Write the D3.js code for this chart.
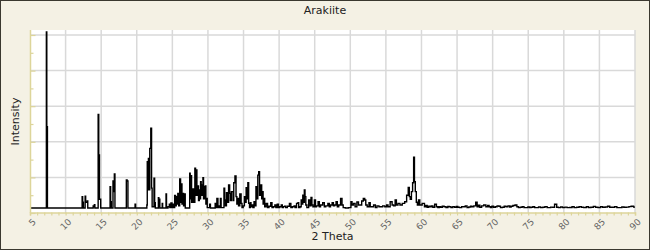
<!DOCTYPE html>
<html>
<head>
<meta charset="utf-8">
<script src="https://cdn.jsdelivr.net/npm/d3@7"></script>
<style>
  html, body { margin: 0; padding: 0; background: #f4f1e4; }
  svg { display: block; }
</style>
</head>
<body>
<script>
// ---- data ----
const title = "Arakiite";
const xLabel = "2 Theta";
const yLabel = "Intensity";
const xTicks = [5, 10, 15, 20, 25, 30, 35, 40, 45, 50, 55, 60, 65, 70, 75, 80, 85, 90];
const yTicks = [0, 20, 40, 60, 80, 100];

// diffraction trace, [2-theta (deg), relative intensity], in three ranges
const traceLow = [
  [5.00, 2.8], [7.28, 2.8], [7.32, 101.7], [7.40, 48.5], [7.50, 2.8],
  [12.30, 2.8], [12.35, 9.2], [12.45, 6.0], [12.55, 2.8], [12.72, 2.8], [12.77, 9.5], [12.87, 6.0], [13.00, 6.0], [13.08, 6.7], [13.15, 2.8],
  [13.85, 2.8], [13.90, 4.0], [14.00, 3.5], [14.08, 4.7], [14.15, 2.8],
  [14.55, 2.8], [14.60, 55.4], [14.72, 32.6], [14.80, 7.7], [14.90, 7.7], [14.97, 2.8],
  [16.22, 2.8], [16.28, 14.8], [16.38, 6.3], [16.48, 2.8], [16.62, 2.8], [16.70, 18.0], [16.80, 12.0], [16.90, 21.9], [16.97, 2.8],
  [18.50, 2.8], [18.57, 18.5], [18.72, 18.0], [18.80, 2.8],
  [19.72, 2.8], [19.80, 5.0], [19.88, 2.8],
  [21.38, 2.8], [21.45, 4.5], [21.50, 28.8], [21.60, 13.0], [21.67, 30.7], [21.75, 13.0], [21.90, 36.3], [22.04, 47.6], [22.12, 14.0], [22.20, 3.5], [22.38, 3.5], [22.46, 19.5], [22.56, 5.8], [22.65, 2.8],
  [23.00, 2.8], [23.07, 8.6], [23.14, 4.0], [23.20, 7.7], [23.28, 2.8],
  [23.55, 2.8], [23.60, 5.4], [23.67, 2.8],
  [24.08, 2.8], [24.14, 10.7], [24.22, 2.8],
  [24.55, 3.5], [24.60, 5.0], [24.70, 3.0], [24.90, 5.6], [25.00, 3.0], [25.15, 5.0], [25.25, 3.0], [25.40, 9.9], [25.50, 4.0], [25.60, 9.2], [25.70, 5.0], [25.83, 11.0], [25.95, 4.0], [26.11, 19.1], [26.20, 6.0], [26.30, 16.3], [26.40, 5.0], [26.53, 11.0], [26.62, 4.0], [26.77, 10.7], [26.85, 2.8],
  [27.40, 2.8], [27.47, 22.3], [27.55, 8.0], [27.65, 21.0], [27.75, 6.0], [28.03, 13.5], [28.10, 6.0], [28.22, 25.1], [28.30, 10.0], [28.40, 24.2], [28.50, 10.0], [28.63, 15.2], [28.72, 7.0], [28.86, 13.0], [28.93, 8.0], [29.00, 17.6], [29.10, 10.0], [29.17, 15.7], [29.25, 10.0], [29.34, 19.8], [29.42, 8.0], [29.50, 14.8], [29.58, 8.0], [29.67, 15.2], [29.75, 5.0], [29.85, 8.2], [29.95, 3.0]
];
const traceMid = [
  [30.20, 3.0], [30.30, 5.0], [30.40, 2.8],
  [30.95, 2.8], [31.08, 5.4], [31.15, 3.0], [31.36, 8.2], [31.45, 3.0], [31.60, 4.0], [31.70, 3.0], [31.80, 8.2], [31.90, 3.0],
  [32.20, 3.0], [32.30, 13.9], [32.40, 7.3], [32.50, 4.0], [32.70, 11.4], [32.80, 6.0], [33.00, 15.7], [33.10, 11.0], [33.20, 7.0], [33.37, 12.0], [33.50, 12.0], [33.55, 7.0], [33.70, 17.0], [33.89, 20.8], [34.00, 9.2], [34.12, 5.0], [34.25, 8.2], [34.35, 4.0], [34.60, 10.7], [34.72, 5.4], [34.85, 3.0],
  [35.05, 4.0], [35.20, 9.2], [35.30, 6.0], [35.43, 14.2], [35.55, 8.0], [35.66, 17.0], [35.78, 5.4], [35.90, 3.0], [36.00, 5.8], [36.10, 3.5], [36.25, 4.5], [36.40, 3.0], [36.55, 6.3], [36.65, 4.0], [36.84, 14.8], [36.95, 8.0], [37.06, 21.3], [37.20, 23.2], [37.30, 10.0], [37.50, 15.7], [37.60, 8.0], [37.70, 12.0], [37.80, 5.0], [37.90, 8.2], [38.05, 3.5],
  [38.30, 5.4], [38.45, 3.0], [38.70, 3.8], [38.95, 5.8], [39.05, 3.0], [39.30, 3.5], [39.50, 4.5], [39.60, 3.0], [39.87, 5.0], [39.95, 3.0], [40.20, 3.5], [40.40, 4.5], [40.50, 3.0], [40.70, 3.6], [40.85, 3.8], [41.00, 3.0], [41.30, 3.8], [41.60, 5.4], [41.70, 3.0], [42.00, 3.5], [42.20, 4.0], [42.30, 3.0], [42.60, 5.4], [42.70, 5.8], [42.80, 3.0],
  [43.05, 3.5], [43.15, 7.3], [43.25, 5.0], [43.40, 10.0], [43.50, 6.0], [43.58, 13.0], [43.70, 9.2], [43.80, 4.5], [44.00, 3.0], [44.30, 7.3], [44.40, 4.0], [44.56, 8.8], [44.65, 4.5], [44.85, 3.5], [45.07, 7.3], [45.15, 3.5], [45.35, 4.0], [45.60, 6.3], [45.70, 3.5], [45.95, 4.5],
  [46.30, 5.8], [46.40, 3.5], [46.70, 4.0], [47.00, 5.4], [47.10, 3.5], [47.35, 4.5], [47.55, 5.8], [47.70, 4.0], [47.90, 4.5], [48.10, 6.3], [48.25, 3.5], [48.50, 4.5], [48.77, 8.2], [48.90, 4.5], [49.10, 3.0], [49.50, 2.8],
  [50.00, 3.0], [50.18, 6.3], [50.30, 4.5], [50.60, 5.4], [50.75, 3.5], [51.10, 6.2], [51.20, 4.5], [51.50, 4.5], [51.70, 6.7], [51.95, 8.2], [52.10, 7.3], [52.25, 4.5], [52.50, 3.5], [52.75, 5.8], [52.85, 3.5], [53.10, 3.5], [53.45, 4.5], [53.60, 3.0],
  [53.90, 4.0], [54.15, 3.5], [54.40, 3.5], [54.70, 4.0], [55.00, 3.5], [55.20, 4.5], [55.40, 3.5], [55.80, 6.3], [55.95, 4.5], [56.20, 4.0], [56.40, 7.3], [56.55, 4.5], [56.85, 5.4], [57.10, 4.5], [57.50, 5.4], [57.78, 6.3],
  [58.05, 10.0], [58.23, 14.4], [58.35, 9.2], [58.50, 7.7], [58.68, 12.0], [58.83, 17.0], [58.97, 31.3], [59.06, 17.6], [59.20, 12.0], [59.35, 6.0], [59.50, 4.5], [59.67, 7.3], [59.85, 4.5]
];
const traceHigh = [
  [60.34, 5.4], [60.50, 3.5], [60.70, 4.2], [60.90, 3.2], [61.10, 3.8], [61.30, 3.5], [61.50, 4.0], [61.70, 3.2], [62.00, 4.9], [62.20, 3.5], [62.40, 3.0], [62.60, 3.6], [62.80, 3.2], [63.05, 3.8], [63.30, 3.5], [63.60, 3.1], [63.80, 3.7], [64.00, 3.5], [64.30, 3.0], [64.50, 3.6], [64.80, 3.2], [65.00, 3.7], [65.20, 3.2], [65.50, 3.0], [65.80, 3.6], [66.00, 3.5], [66.30, 3.9], [66.50, 3.0], [66.80, 3.4], [67.00, 3.8],
  [67.20, 3.5], [67.50, 4.0], [67.74, 6.0], [67.90, 3.5], [68.10, 4.4], [68.30, 3.2], [68.60, 4.0], [68.90, 4.5], [69.20, 3.5], [69.40, 4.2], [69.60, 3.5], [69.80, 3.0], [70.00, 3.8], [70.25, 3.2], [70.50, 3.5], [70.75, 4.0], [71.00, 3.8], [71.20, 3.0], [71.50, 3.2], [71.75, 3.8], [72.00, 3.5], [72.30, 4.0], [72.50, 3.3], [72.70, 3.8], [73.00, 4.2], [73.30, 4.5], [73.50, 3.5], [73.75, 3.0],
  [74.00, 3.2], [74.30, 3.6], [74.50, 3.0], [74.80, 3.0], [75.10, 3.4], [75.30, 3.0], [75.50, 3.2], [75.80, 3.5], [76.00, 3.0], [76.30, 3.0], [76.60, 3.4], [76.90, 3.0], [77.20, 3.2], [77.50, 3.6], [77.80, 3.0], [78.00, 3.0], [78.30, 3.3], [78.50, 3.2], [78.90, 4.9], [79.10, 3.2], [79.40, 3.0], [79.70, 3.4],
  [80.00, 3.0], [80.30, 3.3], [80.60, 3.0], [81.00, 3.1], [81.30, 3.5], [81.60, 3.0], [82.00, 3.2], [82.30, 3.6], [82.60, 3.2], [83.00, 3.0], [83.30, 3.5], [83.60, 3.1], [84.00, 3.2], [84.30, 3.7], [84.60, 3.2], [85.00, 3.0], [85.30, 3.5], [85.60, 3.2], [86.00, 3.4], [86.30, 3.8], [86.60, 3.2], [87.00, 3.2], [87.30, 3.6], [87.60, 3.0], [88.00, 3.0], [88.30, 3.4], [88.60, 3.2], [89.00, 3.3], [89.30, 3.6], [89.60, 3.8], [90.00, 3.3]
];

// ---- layout ----
const W = 650, H = 250;
const plot = { left: 30, right: 635, top: 30, bottom: 213 };

const svg = d3.select("body").append("svg")
  .attr("width", W).attr("height", H)
  .style("font-family", "'DejaVu Sans', Verdana, sans-serif");

// outer panel
svg.append("rect").attr("x", 0.5).attr("y", 0.5).attr("width", W - 1).attr("height", H - 1)
  .attr("fill", "#f4f1e4").attr("stroke", "#3a382f").attr("stroke-width", 1);

const x = d3.scaleLinear().domain([5, 90]).range([plot.left, plot.right]);
const y = d3.scaleLinear().domain([0, 100]).range([plot.bottom, 35]);

// plot background
svg.append("rect").attr("x", plot.left).attr("y", plot.top)
  .attr("width", plot.right - plot.left).attr("height", plot.bottom - plot.top)
  .attr("fill", "#ffffff");

// grid
const grid = svg.append("g").attr("stroke", "#d9d9d9").attr("stroke-width", 1.5);
grid.selectAll("line.v").data(xTicks.slice(1)).join("line")
  .attr("x1", d => x(d)).attr("x2", d => x(d))
  .attr("y1", plot.top).attr("y2", plot.bottom);
grid.selectAll("line.h").data(yTicks.slice(1)).join("line")
  .attr("x1", plot.left).attr("x2", plot.right)
  .attr("y1", d => y(d)).attr("y2", d => y(d));

// data trace
const pts = traceLow.concat(traceMid, traceHigh);
const line = d3.line().x(d => x(d[0])).y(d => y(d[1])).curve(d3.curveStep);
svg.append("path").datum(pts)
  .attr("d", line)
  .attr("fill", "none").attr("stroke", "#000").attr("stroke-width", 1.4)
  .attr("stroke-linejoin", "miter");

// axes
const axisColor = "#ddd59a";
const xAxis = d3.axisBottom(x).tickValues(d3.range(5, 91, 1)).tickSize(3).tickFormat("");
const gx = svg.append("g").attr("transform", `translate(0,${plot.bottom - 0.5})`).call(xAxis);
gx.select(".domain").attr("stroke", axisColor).attr("stroke-width", 1.5);
gx.selectAll(".tick line").attr("stroke", axisColor).attr("stroke-width", 1.2);

svg.append("g").selectAll("text").data(xTicks).join("text")
  .attr("transform", d => `translate(${x(d) + 2},${plot.bottom + 5}) rotate(-45)`)
  .attr("text-anchor", "end")
  .attr("dy", "0.7em")
  .attr("font-size", 9)
  .attr("fill", "#666")
  .text(d => d);

const yAxis = d3.axisRight(y).tickValues(d3.range(0, 101, 10)).tickSize(0).tickFormat("");
const gy = svg.append("g").attr("transform", `translate(${plot.left + 0.5},0)`).call(yAxis);
gy.select(".domain").remove();
gy.append("line").attr("x1", 0).attr("x2", 0).attr("y1", plot.top).attr("y2", plot.bottom)
  .attr("stroke", axisColor).attr("stroke-width", 1.5);
gy.selectAll(".tick line")
  .attr("x2", d => (d % 20 === 0 ? 5 : 3))
  .attr("stroke", axisColor).attr("stroke-width", 1.2);

// titles
svg.append("text").attr("x", W / 2).attr("y", 14).attr("text-anchor", "middle")
  .attr("font-size", 11).attr("fill", "#222").text(title);
svg.append("text").attr("x", (plot.left + plot.right) / 2).attr("y", 240).attr("text-anchor", "middle")
  .attr("font-size", 11).attr("fill", "#222").text(xLabel);
svg.append("text")
  .attr("transform", `translate(19,${(plot.top + plot.bottom) / 2}) rotate(-90)`)
  .attr("text-anchor", "middle")
  .attr("font-size", 11).attr("fill", "#222").text(yLabel);
</script>
</body>
</html>
